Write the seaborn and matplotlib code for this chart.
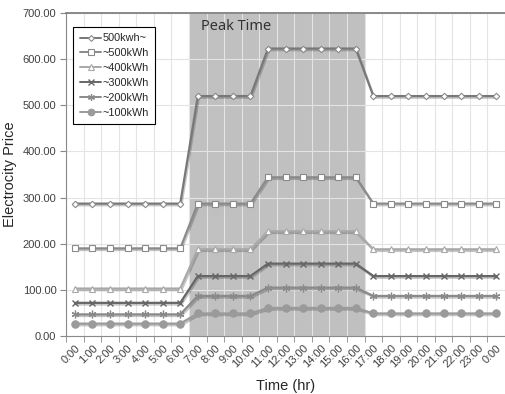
import numpy as np
import pandas as pd
import matplotlib
matplotlib.use("Agg")
import matplotlib.pyplot as plt
import matplotlib.patheffects as pe
from matplotlib.lines import Line2D
from matplotlib.ticker import FixedLocator, FormatStrFormatter
import seaborn as sns

# hourly tariff (25 points: 0:00 .. 24:00)
hours = list(range(25))
hour_labels = [f"{h}:00" for h in range(24)] + ["0:00"]

def tariff(off, mid, peak):
    # 0-6 off-peak, 7-10 mid, 11-16 peak, 17-24 mid
    return [off] * 7 + [mid] * 4 + [peak] * 6 + [mid] * 8

price_500_up = tariff(287, 520, 623)
price_500 = tariff(190, 287, 344)
price_400 = tariff(103, 188, 227)
price_300 = tariff(72, 130, 157)
price_200 = tariff(47, 87, 105)
price_100 = tariff(27, 49, 61)

series_names = ["500kwh~", "~500kWh", "~400kWh", "~300kWh", "~200kWh", "~100kWh"]
series_values = [price_500_up, price_500, price_400, price_300, price_200, price_100]

styles = {
    "500kwh~": dict(color="#787878", marker="D", ms=3.3, mfc="white", mec="#8a8a8a", mew=0.8),
    "~500kWh": dict(color="#8a8a8a", marker="s", ms=4.6, mfc="white", mec="#8a8a8a", mew=0.8),
    "~400kWh": dict(color="#a8a8a8", marker="^", ms=4.6, mfc="white", mec="#a8a8a8", mew=0.8),
    "~300kWh": dict(color="#666666", marker="x", ms=4.8, mfc="#666666", mec="#666666", mew=1.0),
    "~200kWh": dict(color="#8a8a8a", marker=(6, 2, 0), ms=5.5, mfc="#8a8a8a", mec="#8a8a8a", mew=0.9),
    "~100kWh": dict(color="#9a9a9a", marker="o", ms=5.3, mfc="#9a9a9a", mec="#9a9a9a", mew=0.8),
}

sns.set_style("white")
plt.rcParams["font.family"] = ["Liberation Sans", "DejaVu Sans"]

fig = plt.figure(figsize=(5.05, 3.94), dpi=100)
ax = fig.add_axes([0.131, 0.147, 0.869, 0.820])

# peak-time shading
ax.axvspan(6.5, 16.5, color="#c0c0c0", zorder=0.2, lw=0)
ax.text(7.2, 688, "Peak Time", fontsize=10.5, color="#333333", va="top", ha="left",
        family=["Noto Sans", "DejaVu Sans"], zorder=3)

shadow = [pe.SimpleLineShadow(offset=(0.8, -1.2), shadow_color="#444444", alpha=0.3), pe.Normal()]
handles = []
for name, vals in zip(series_names, series_values):
    df = pd.DataFrame({"hour": hours, "price": vals})
    st = styles[name]
    # line with soft shadow
    sns.lineplot(data=df, x="hour", y="price", ax=ax, color=st["color"], lw=1.6,
                 path_effects=shadow, zorder=2)
    # markers on top
    sns.lineplot(data=df, x="hour", y="price", ax=ax, linestyle="", color=st["color"],
                 marker=st["marker"], markersize=st["ms"], markerfacecolor=st["mfc"],
                 markeredgecolor=st["mec"], markeredgewidth=st["mew"], zorder=2.5)
    handles.append(Line2D([], [], color=st["color"], lw=1.4, marker=st["marker"],
                          markersize=st["ms"] * 0.9, markerfacecolor=st["mfc"],
                          markeredgecolor=st["mec"], markeredgewidth=st["mew"]))

ax.set_xlim(-0.5, 24.5)
ax.set_ylim(0, 700)
ax.set_xlabel("Time (hr)", fontsize=10.5, labelpad=7)
ax.set_ylabel("Electrocity Price", fontsize=10.5, labelpad=4)

ax.set_xticks(hours)
ax.set_xticklabels(hour_labels, rotation=45, ha="right", rotation_mode="anchor",
                   fontsize=8, color="#404040")
ax.xaxis.set_minor_locator(FixedLocator(np.arange(-0.5, 25, 1)))
ax.tick_params(axis="x", which="major", length=0, pad=5)
ax.tick_params(axis="x", which="minor", length=4, color="#888888", bottom=True)
ax.set_yticks(np.arange(0, 701, 100))
ax.yaxis.set_major_formatter(FormatStrFormatter("%.2f"))
ax.tick_params(axis="y", length=4, color="#888888", labelsize=8, labelcolor="#404040",
               left=True, pad=3)

ax.set_axisbelow(True)
ax.grid(True, axis="y", color="#e4e4e4", lw=0.8, zorder=0.5)
ax.grid(True, axis="x", which="minor", color="#e4e4e4", lw=0.8, zorder=0.5)
ax.grid(False, axis="x", which="major")

for side in ["left", "bottom"]:
    ax.spines[side].set_color("#8a8a8a")
    ax.spines[side].set_linewidth(0.8)
ax.spines["top"].set_color("#777777")
ax.spines["top"].set_linewidth(1.2)
ax.spines["right"].set_visible(False)

leg = ax.legend(handles, series_names, loc="upper left", bbox_to_anchor=(0.016, 0.957),
                borderaxespad=0, fontsize=7.8, frameon=True, fancybox=False, framealpha=1,
                edgecolor="black", handlelength=2.0, handletextpad=0.1, labelspacing=0.45,
                borderpad=0.6)
leg.get_frame().set_linewidth(0.8)

fig.savefig("out.png", dpi=100)
